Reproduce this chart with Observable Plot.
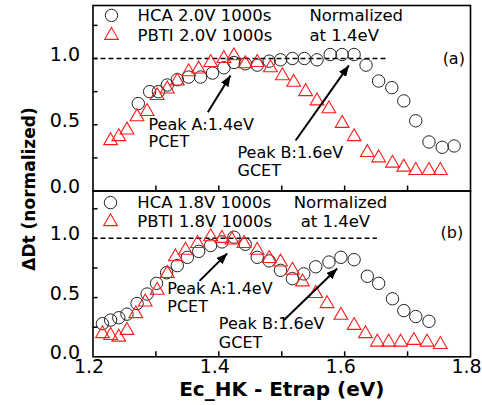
<!DOCTYPE html>
<html><head><meta charset="utf-8">
<script src="https://cdn.jsdelivr.net/npm/d3@7"></script>
<script src="https://cdn.jsdelivr.net/npm/@observablehq/plot@0.6"></script>
<style>
body{margin:0;background:#fff;}
#wrap{position:relative;width:482px;height:405px;overflow:hidden;background:#fff;}
#panelTop,#panelBot{position:absolute;left:0;}
#panelTop{top:0;} #panelBot{top:190px;}
#ytitle{position:absolute;left:29px;top:189px;transform:translate(-50%,-50%) rotate(-90deg);font:bold 17px "DejaVu Sans";white-space:nowrap;color:#000;}
</style></head>
<body><div id="wrap"><div id="panelBot"></div><div id="panelTop"></div><div id="ytitle">ΔDt (normalized)</div></div>
<script>
// ---- data ----
const hca20E = [1.272,1.290,1.304,1.318,1.334,1.352,1.371,1.390,1.408,1.424,1.442,1.461,1.480,1.498,1.517,1.536,1.556,1.577,1.596,1.615,1.634,1.654,1.675,1.694,1.713,1.734,1.755,1.774];
const hca20V = [0.66,0.75,0.75,0.80,0.84,0.86,0.86,0.89,0.93,0.97,0.96,0.95,0.98,0.99,1.00,1.00,0.99,1.03,1.03,1.03,0.95,0.83,0.78,0.68,0.53,0.37,0.33,0.34];
const pbti20E = [1.228,1.241,1.254,1.270,1.286,1.302,1.318,1.334,1.352,1.368,1.387,1.408,1.424,1.442,1.461,1.482,1.501,1.519,1.538,1.556,1.575,1.596,1.615,1.636,1.654,1.676,1.694,1.713,1.734,1.752];
const pbti20V = [0.38,0.41,0.46,0.56,0.60,0.72,0.77,0.83,0.90,0.92,0.97,1.00,1.02,0.96,0.97,0.93,0.87,0.82,0.75,0.68,0.62,0.51,0.41,0.29,0.25,0.21,0.18,0.155,0.155,0.155];
const hca18E = [1.215,1.228,1.241,1.254,1.270,1.286,1.301,1.317,1.334,1.350,1.368,1.387,1.405,1.424,1.442,1.461,1.480,1.498,1.517,1.535,1.554,1.575,1.594,1.615,1.636,1.654,1.676,1.694,1.713,1.734];
const hca18V = [0.28,0.31,0.33,0.36,0.45,0.53,0.62,0.71,0.77,0.84,0.89,0.94,0.97,1.01,0.95,0.84,0.81,0.73,0.66,0.70,0.76,0.80,0.84,0.82,0.68,0.62,0.49,0.39,0.34,0.30];
const pbti18E = [1.215,1.228,1.241,1.254,1.268,1.283,1.302,1.318,1.331,1.347,1.366,1.387,1.405,1.421,1.440,1.461,1.480,1.498,1.517,1.533,1.554,1.572,1.594,1.615,1.633,1.652,1.670,1.689,1.710,1.731,1.752];
const pbti18V = [0.195,0.18,0.166,0.223,0.364,0.463,0.562,0.703,0.844,0.90,0.957,1.014,1.0,0.986,0.957,0.90,0.83,0.80,0.731,0.632,0.534,0.449,0.35,0.265,0.195,0.124,0.124,0.124,0.138,0.124,0.104];

const legendTop = ["HCA 2.0V 1000s", "PBTI 2.0V 1000s"];
const legendBot = ["HCA 1.8V 1000s", "PBTI 1.8V 1000s"];
const normNote = ["Normalized", "at 1.4eV"];
const peakA = ["Peak A:1.4eV", "PCET"];
const peakB = ["Peak B:1.6eV", "GCET"];
const panelTags = ["(a)", "(b)"];
const xTickLabels = [1.2, 1.4, 1.6, 1.8];
const xMinorTicks = [1.3, 1.4, 1.5, 1.6, 1.7];
const yTickLabels = [0, 0.5, 1.0];
const yMinorTicks = [0.25, 0.5, 0.75, 1.0, 1.25];
const xTitle = "Ec_HK - Etrap (eV)";
const refLevel = 1.0;

const pts = (E, V) => E.map((e, i) => ({e, v: V[i]}));
const FONT = "DejaVu Sans";
const W = 482, ML = 92.5, MR = 12;
const PW = W - ML - MR;

function headMarker(color, context) {
  const ns = "http://www.w3.org/2000/svg";
  const doc = (context && context.document) || document;
  const m = doc.createElementNS(ns, "marker");
  m.setAttribute("viewBox", "-10 -4 10 8");
  m.setAttribute("markerWidth", 5.5);
  m.setAttribute("markerHeight", 4.4);
  m.setAttribute("refX", 0);
  m.setAttribute("refY", 0);
  m.setAttribute("orient", "auto");
  const p = doc.createElementNS(ns, "path");
  p.setAttribute("d", "M-10,-4L0,0L-10,4Z");
  p.setAttribute("fill", color);
  p.setAttribute("stroke", "none");
  m.appendChild(p);
  return m;
}
function arrows(data) {
  try {
    return Plot.link(data, {x1: "x1", y1: "y1", x2: "x2", y2: "y2", stroke: "black", strokeWidth: 2, markerEnd: headMarker});
  } catch (e) {
    return Plot.arrow(data, {x1: "x1", y1: "y1", x2: "x2", y2: "y2", stroke: "black", strokeWidth: 2, headLength: 10});
  }
}

function panel(o) {
  const PH = o.height - o.mt - o.mb;
  const marks = [
    Plot.ruleY([refLevel], {x1: 1.2, x2: o.dashEnd, stroke: "black", strokeWidth: 1.5, strokeDasharray: "5,3"}),
    Plot.tickY(yMinorTicks, {y: d => d, insetRight: PW - 5, strokeWidth: 1.5}),
    Plot.tickX(xMinorTicks, {x: d => d, insetTop: PH - 5, strokeWidth: 1.5}),
    Plot.dot(pts(o.hcaE, o.hcaV), {x: "e", y: "v", r: 6.2, stroke: "#222", strokeWidth: 1, fill: "none"}),
    Plot.dot(pts(o.pbtiE, o.pbtiV), {x: "e", y: "v", r: 5.1, symbol: "triangle", stroke: "#ff1a1a", strokeWidth: 1.1, fill: "none"}),
    Plot.axisY(yTickLabels, {tickSize: 0, tickPadding: 13, fontSize: 19, tickFormat: d3.format(".1f"), label: null, dy: -4}),
    Plot.dot([o.legend[0]], {x: o.legX, y: o.legY[0], r: 6.2, stroke: "#222", strokeWidth: 1, fill: "none"}),
    Plot.dot([o.legend[1]], {x: o.legX, y: o.legY[1], r: 5.1, symbol: "triangle", stroke: "#ff1a1a", strokeWidth: 1.1, fill: "none"}),
    Plot.text(o.legend, {x: o.legTX, y: (d, i) => o.legY[i], text: d => d, textAnchor: "start", fontSize: 16.5}),
    Plot.text(normNote, {x: (d, i) => o.normX[i], y: (d, i) => o.legY[i], text: d => d, textAnchor: "start", fontSize: 16.5}),
    Plot.text([o.tag], {x: o.tagX, y: o.tagY, text: d => d, textAnchor: "start", fontSize: 16}),
    Plot.text(peakA, {x: o.aX, y: (d, i) => o.aY[i], text: d => d, textAnchor: "start", fontSize: 16}),
    Plot.text(peakB, {x: o.bX, y: (d, i) => o.bY[i], text: d => d, textAnchor: "start", fontSize: 16}),
    arrows(o.arrows),
    Plot.frame({stroke: "black", strokeWidth: 1.6})
  ];
  if (o.showX) {
    marks.push(Plot.axisX(xTickLabels, {tickSize: 0, tickPadding: 3, fontSize: 19, tickFormat: d3.format(".1f"), label: null, dx: -4}));
    marks.push(Plot.text([xTitle], {frameAnchor: "bottom", lineAnchor: "middle", dy: 33, text: d => d, fontSize: 20, fontWeight: "bold"}));
  }
  return Plot.plot({
    width: W, height: o.height,
    marginLeft: ML, marginRight: MR, marginTop: o.mt, marginBottom: o.mb,
    x: {domain: [1.2, 1.8], axis: null},
    y: {domain: [0, 1.4], axis: null},
    style: {fontFamily: FONT, fontSize: "16px", background: "none", overflow: "visible", color: "black"},
    marks
  });
}

const plotA = panel({
  height: 195, mt: 5, mb: 4.5,
  hcaE: hca20E, hcaV: hca20V, pbtiE: pbti20E, pbtiV: pbti20V,
  dashEnd: 1.668,
  legend: legendTop, legX: 1.2294, legY: [1.3255, 1.1745], legTX: 1.2707, normX: [1.544, 1.544],
  tag: panelTags[0], tagX: 1.7557, tagY: 1.0,
  aX: 1.2882, aY: [0.50, 0.368], bX: 1.4297, bY: [0.29, 0.15],
  arrows: [{x1: 1.3825, y1: 0.595, x2: 1.4186, y2: 0.872}, {x1: 1.522, y1: 0.381, x2: 1.6067, y2: 0.948}],
  showX: false
});
const plotB = panel({
  height: 215, mt: 0.5, mb: 48.7,
  hcaE: hca18E, hcaV: hca18V, pbtiE: pbti18E, pbtiV: pbti18V,
  dashEnd: 1.652,
  legend: legendBot, legX: 1.2278, legY: [1.302, 1.141], legTX: 1.2703, normX: [1.519, 1.530],
  tag: panelTags[1], tagX: 1.7525, tagY: 1.045,
  aX: 1.318, aY: [0.573, 0.42], bX: 1.400, bY: [0.28, 0.115],
  arrows: [{x1: 1.3693, y1: 0.641, x2: 1.4134, y2: 0.873}, {x1: 1.5033, y1: 0.308, x2: 1.5882, y2: 0.746}],
  showX: true
});
document.getElementById("panelTop").appendChild(plotA);
document.getElementById("panelBot").appendChild(plotB);
</script>
</body></html>
